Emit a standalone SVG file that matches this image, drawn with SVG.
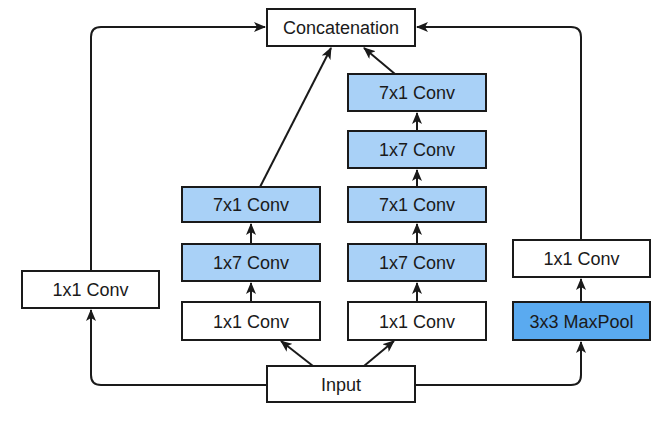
<svg xmlns="http://www.w3.org/2000/svg" width="668" height="428" viewBox="0 0 668 428">
<style>
.box{stroke:#1a1a1a;stroke-width:2}
.w{fill:#ffffff}
.lb{fill:#a9d1f7}
.db{fill:#5aaaf0}
text{font-family:"Liberation Sans",Arial,sans-serif;font-size:18px;fill:#1a1a1a;text-anchor:middle}
.c{fill:none;stroke:#1a1a1a;stroke-width:2;marker-end:url(#ah)}
</style>
<defs>
<marker id="ah" markerUnits="userSpaceOnUse" markerWidth="12" markerHeight="10" refX="11" refY="5" orient="auto">
<path d="M0,0 L12,5 L0,10 L3,5 z" fill="#1a1a1a"/>
</marker>
</defs>
<rect width="668" height="428" fill="#ffffff"/>
<g id="connectors">
<path class="c" d="M267,385 H101 Q91,385 91,375 V310"/>
<path class="c" d="M91,271 V37 Q91,27 101,27 H265"/>
<path class="c" d="M415,385 H571 Q581,385 581,375 V342"/>
<path class="c" d="M581,240 V37 Q581,27 571,27 H417"/>
<path class="c" d="M251,302 V283"/>
<path class="c" d="M251,244 V224"/>
<path class="c" d="M417,302 V283"/>
<path class="c" d="M417,244 V224"/>
<path class="c" d="M417,187 V170"/>
<path class="c" d="M417,131 V113"/>
<path class="c" d="M581,302 V279"/>
<path class="c" d="M313,366 L281,341"/>
<path class="c" d="M364,366 L394,341"/>
<path class="c" d="M260,187 L331,48"/>
<path class="c" d="M395,74 L364,48"/>
</g>
<g id="concat"><rect class="box w" x="267" y="9" width="148" height="37"/><text x="341" y="34">Concatenation</text></g>
<g id="input"><rect class="box w" x="267" y="366" width="148" height="36"/><text x="341" y="391">Input</text></g>
<g id="b1_conv1x1"><rect class="box w" x="22" y="271" width="137" height="37"/><text x="90.5" y="296">1x1 Conv</text></g>
<g id="b2_conv1x1"><rect class="box w" x="182" y="302" width="138" height="38"/><text x="251" y="328">1x1 Conv</text></g>
<g id="b2_conv1x7"><rect class="box lb" x="182" y="244" width="138" height="37"/><text x="251" y="269">1x7 Conv</text></g>
<g id="b2_conv7x1"><rect class="box lb" x="182" y="187" width="138" height="35"/><text x="251" y="211">7x1 Conv</text></g>
<g id="b3_conv1x1"><rect class="box w" x="348" y="302" width="138" height="38"/><text x="417" y="328">1x1 Conv</text></g>
<g id="b3_conv1x7a"><rect class="box lb" x="348" y="244" width="138" height="37"/><text x="417" y="269">1x7 Conv</text></g>
<g id="b3_conv7x1a"><rect class="box lb" x="348" y="187" width="138" height="35"/><text x="417" y="211">7x1 Conv</text></g>
<g id="b3_conv1x7b"><rect class="box lb" x="348" y="131" width="138" height="37"/><text x="417" y="156">1x7 Conv</text></g>
<g id="b3_conv7x1b"><rect class="box lb" x="348" y="74" width="138" height="37"/><text x="417" y="99">7x1 Conv</text></g>
<g id="b4_maxpool"><rect class="box db" x="513" y="302" width="137" height="38"/><text x="581.5" y="328">3x3 MaxPool</text></g>
<g id="b4_conv1x1"><rect class="box w" x="513" y="240" width="137" height="37"/><text x="581.5" y="265">1x1 Conv</text></g>
</svg>
